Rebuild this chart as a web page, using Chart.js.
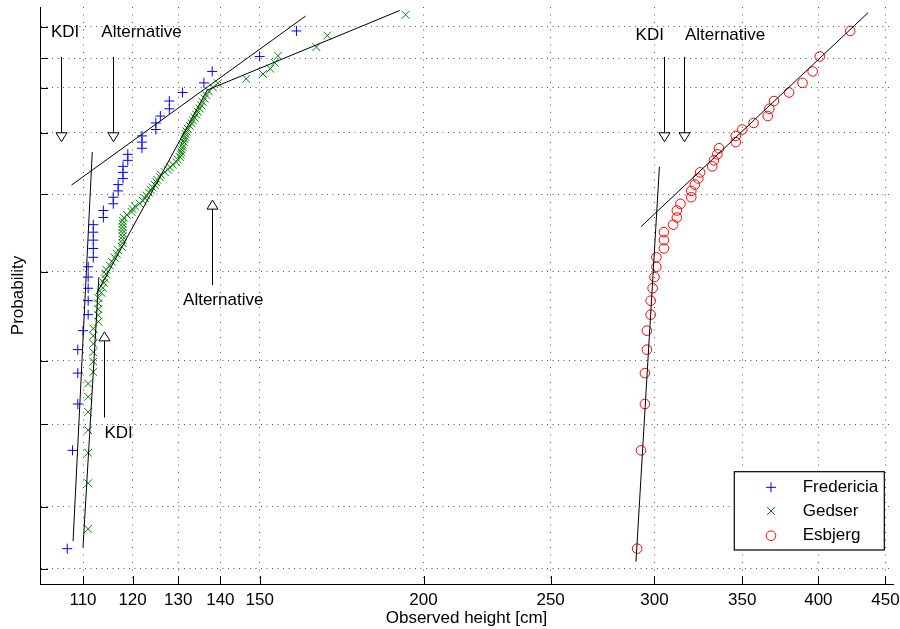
<!DOCTYPE html>
<html>
<head>
<meta charset="utf-8">
<script src="https://cdn.jsdelivr.net/npm/chart.js@4.4.1/dist/chart.umd.min.js"></script>
<style>
  html, body { margin: 0; padding: 0; background: #fff; }
</style>
</head>
<body>
<canvas id="myChart" width="900" height="629"></canvas>
<script>
// axis ticks
const xTicks = [110, 120, 130, 140, 150, 200, 250, 300, 350, 400, 450];
const probTicks = [0.01, 0.02, 0.05, 0.10, 0.25, 0.50, 0.75, 0.90, 0.96, 0.99];
const xLimits = [102, 456];
const probLimits = [0.0084, 0.9968];

// plotting positions (n = 40)
const prob40 = [0.0125, 0.0375, 0.0625, 0.0875, 0.1125, 0.1375, 0.1625, 0.1875, 0.2125, 0.2375,
  0.2625, 0.2875, 0.3125, 0.3375, 0.3625, 0.3875, 0.4125, 0.4375, 0.4625, 0.4875,
  0.5125, 0.5375, 0.5625, 0.5875, 0.6125, 0.6375, 0.6625, 0.6875, 0.7125, 0.7375,
  0.7625, 0.7875, 0.8125, 0.8375, 0.8625, 0.8875, 0.9125, 0.9375, 0.9625, 0.9875];

const fredHeight = [107, 108, 109, 109, 109, 110, 111, 111, 111, 111,
  111, 112, 112, 112, 112, 112, 114, 114, 116, 116,
  117, 117, 118, 118, 118, 119, 119, 122, 122, 122,
  125, 125, 126, 128, 128, 131, 136, 138, 150, 160];
const fredProb = prob40;

const esbHeight = [291, 293, 295, 295, 296, 296, 298, 298, 299, 300,
  301, 301, 305, 305, 305, 310, 312, 312, 314, 320,
  320, 322, 324, 325, 332, 333, 335, 336, 346, 346,
  350, 357, 366, 367, 370, 380, 389, 396, 401, 423];
const esbProb = prob40;

// Gedser (n = 96, lowest value falls below the axis)
const gedHeight = [111, 111, 111, 111, 111, 111, 111,
  112, 112, 112, 112, 112, 112,
  113, 113, 113, 113, 113, 113.6, 113.9, 114.1, 114.3, 114.5, 114.6,
  115.3, 115.7, 116.3, 116.7, 117.0, 117.7,
  117.9, 117.9, 117.9, 117.9, 117.9, 117.9, 117.9, 117.9,
  118.2, 118.8, 119.8, 120.0, 120.5, 121.5, 122.2, 122.6, 122.9, 123.5,
  123.9, 124.3, 124.8, 125.1, 125.3, 125.9, 126.1, 127.0, 127.7, 128.1,
  128.8, 129.6, 129.9, 130.4, 130.6, 130.7, 130.8, 131.0, 131.0, 131.3,
  131.5, 131.6, 131.7, 131.9, 132.2, 132.7, 133.1, 133.4, 133.8, 134.2,
  134.5, 135.0, 135.4, 135.7, 136.2, 136.6, 137.2, 138.2, 139.4,
  146.5, 150.9, 152.8, 154.0, 154.9, 165.7, 168.9, 193.8];
const gedProb = [0.0156, 0.0260, 0.0365, 0.0469, 0.0573, 0.0677, 0.0781,
  0.0885, 0.0990, 0.1094, 0.1198, 0.1302, 0.1406,
  0.1510, 0.1615, 0.1719, 0.1823, 0.1927, 0.2031, 0.2135, 0.2240, 0.2344, 0.2448, 0.2552,
  0.2656, 0.2760, 0.2865, 0.2969, 0.3073, 0.3177,
  0.3281, 0.3385, 0.3490, 0.3594, 0.3698, 0.3802, 0.3906, 0.4010,
  0.4115, 0.4219, 0.4323, 0.4427, 0.4531, 0.4635, 0.4740, 0.4844, 0.4948, 0.5052,
  0.5156, 0.5260, 0.5365, 0.5469, 0.5573, 0.5677, 0.5781, 0.5885, 0.5990, 0.6094,
  0.6198, 0.6302, 0.6406, 0.6510, 0.6615, 0.6719, 0.6823, 0.6927, 0.7031, 0.7135,
  0.7240, 0.7344, 0.7448, 0.7552, 0.7656, 0.7760, 0.7865, 0.7969, 0.8073, 0.8177,
  0.8281, 0.8385, 0.8490, 0.8594, 0.8698, 0.8802, 0.8906, 0.9010, 0.9115,
  0.9219, 0.9323, 0.9427, 0.9531, 0.9635, 0.9740, 0.9844, 0.9948];

// fitted lines [height, probability]
const fredKdiLine = [[108.1, 0.0136], [111.8, 0.672]];
const fredAltLine = [[107.8, 0.5356], [162.6, 0.9944]];
const gedKdiLine = [[110.0, 0.0127], [113.1, 0.2373]];
const gedAltLine = [[112.6, 0.2003], [136.8, 0.8942], [191.8, 0.9960]];
const esbKdiLine = [[290.4, 0.0108], [302.6, 0.6107]];
const esbAltLine = [[292.9, 0.3803], [436.4, 0.9954]];

// annotations
const arrows = [
  {h: 105.9, from: 0.962, to: 0.714},
  {h: 115.9, from: 0.962, to: 0.714},
  {h: 304.8, from: 0.962, to: 0.714},
  {h: 316.1, from: 0.962, to: 0.714},
  {h: 137.9, from: 0.2192, to: 0.4765},
  {h: 114.1, from: 0.0539, to: 0.1358}
];
const notes = [
  {text: 'KDI', h: 106.6, p: 0.9866},
  {text: 'Alternative', h: 121.9, p: 0.9866},
  {text: 'KDI', h: 297.5, p: 0.9848},
  {text: 'Alternative', h: 339.6, p: 0.9848},
  {text: 'Alternative', h: 140.7, p: 0.1885},
  {text: 'KDI', h: 117.1, p: 0.0452}
];

const wbl = p => Math.log(-Math.log(1 - p));
const toPoints = (hs, ps) => hs.map((h, i) => ({x: h, y: wbl(ps[i])}));
const linePoints = pts => pts.map(([h, p]) => ({x: h, y: wbl(p)}));

const FONT = "'Liberation Sans', Arial, Helvetica, sans-serif";
Chart.defaults.font.family = FONT;
Chart.defaults.font.size = 17;
Chart.defaults.color = '#000';

const fitLine = pts => ({
  type: 'line', data: linePoints(pts), borderColor: '#000', borderWidth: 1,
  pointRadius: 0, showLine: true, fill: false, tension: 0
});

const series = [
  {label: 'Fredericia', color: '#0000ff', style: 'cross', radius: 5},
  {label: 'Gedser', color: '#008000', style: 'crossRot', radius: 5.5},
  {label: 'Esbjerg', color: '#ff0000', style: 'circle', radius: 4.8}
];

const drawMarker = (ctx, s, x, y) => {
  ctx.strokeStyle = s.color;
  ctx.lineWidth = 1;
  ctx.beginPath();
  if (s.style === 'cross') {
    ctx.moveTo(x - s.radius, y); ctx.lineTo(x + s.radius, y);
    ctx.moveTo(x, y - s.radius); ctx.lineTo(x, y + s.radius);
  } else if (s.style === 'crossRot') {
    const d = s.radius * Math.SQRT1_2;
    ctx.moveTo(x - d, y - d); ctx.lineTo(x + d, y + d);
    ctx.moveTo(x - d, y + d); ctx.lineTo(x + d, y - d);
  } else {
    ctx.arc(x, y, s.radius, 0, Math.PI * 2);
  }
  ctx.stroke();
};

const extras = {
  id: 'extras',
  afterDraw(chart) {
    const {ctx, chartArea: a, scales: {x, y}} = chart;
    ctx.save();

    // inward tick marks
    ctx.strokeStyle = '#000';
    ctx.lineWidth = 1;
    ctx.beginPath();
    xTicks.forEach(v => {
      const px = Math.round(x.getPixelForValue(v)) + 0.5;
      ctx.moveTo(px, a.bottom); ctx.lineTo(px, a.bottom - 8);
    });
    probTicks.forEach(p => {
      const py = Math.round(y.getPixelForValue(wbl(p))) + 0.5;
      ctx.moveTo(a.left, py); ctx.lineTo(a.left + 8, py);
    });
    ctx.stroke();

    // arrows
    arrows.forEach(ar => {
      const px = Math.round(x.getPixelForValue(ar.h)) + 0.5;
      const y0 = y.getPixelForValue(wbl(ar.from));
      const y1 = y.getPixelForValue(wbl(ar.to));
      const dir = Math.sign(y1 - y0);
      const base = y1 - dir * 9;
      ctx.strokeStyle = '#000';
      ctx.beginPath();
      ctx.moveTo(px, y0); ctx.lineTo(px, base);
      ctx.stroke();
      ctx.beginPath();
      ctx.moveTo(px - 5.5, base); ctx.lineTo(px + 5.5, base); ctx.lineTo(px, y1); ctx.closePath();
      ctx.fillStyle = '#fff';
      ctx.fill();
      ctx.stroke();
    });

    // text notes
    ctx.fillStyle = '#000';
    ctx.font = '17px ' + FONT;
    ctx.textAlign = 'center';
    ctx.textBaseline = 'middle';
    notes.forEach(n => {
      ctx.fillText(n.text, x.getPixelForValue(n.h), y.getPixelForValue(wbl(n.p)));
    });

    // legend
    const lx = a.right - 158.7, ly = a.bottom - 112.3, lw = 150, lh = 78.3;
    ctx.fillStyle = '#fff';
    ctx.fillRect(lx, ly, lw, lh);
    ctx.strokeStyle = '#000';
    ctx.lineWidth = 1.2;
    ctx.strokeRect(lx, ly, lw, lh);
    const rows = [15.6, 39.3, 64];
    ctx.textAlign = 'left';
    series.forEach((s, i) => {
      drawMarker(ctx, s, lx + 36.7, ly + rows[i]);
      ctx.fillStyle = '#000';
      ctx.fillText(s.label, lx + 68.4, ly + rows[i]);
    });
    ctx.restore();
  }
};

new Chart(document.getElementById('myChart'), {
  type: 'scatter',
  data: {
    datasets: [
      fitLine(fredKdiLine), fitLine(fredAltLine),
      fitLine(gedKdiLine), fitLine(gedAltLine),
      fitLine(esbKdiLine), fitLine(esbAltLine),
      {label: 'Fredericia', data: toPoints(fredHeight, fredProb), pointStyle: 'cross', pointRadius: 5,
        borderColor: '#0000ff', backgroundColor: 'transparent', pointBorderWidth: 1, showLine: false},
      {label: 'Gedser', data: toPoints(gedHeight, gedProb), pointStyle: 'crossRot', pointRadius: 5.5,
        borderColor: '#008000', backgroundColor: 'transparent', pointBorderWidth: 1, showLine: false},
      {label: 'Esbjerg', data: toPoints(esbHeight, esbProb), pointStyle: 'circle', pointRadius: 4.8,
        borderColor: '#ff0000', backgroundColor: 'transparent', pointBorderWidth: 1, showLine: false}
    ]
  },
  options: {
    responsive: false,
    animation: false,
    events: [],
    layout: {padding: {left: 0, top: 7, right: 7, bottom: 0}},
    plugins: {legend: {display: false}, tooltip: {enabled: false}},
    scales: {
      x: {
        type: 'logarithmic',
        position: 'bottom',
        min: xLimits[0],
        max: xLimits[1],
        afterBuildTicks: s => { s.ticks = xTicks.map(v => ({value: v})); },
        afterFit: s => { s.height = 45; s.paddingLeft = 0; s.paddingRight = 0; },
        ticks: {callback: v => String(v), autoSkip: false, maxRotation: 0, padding: 6, color: '#000'},
        grid: {color: '#555', lineWidth: 1, drawTicks: false},
        border: {display: true, color: '#000', width: 1, dash: [1, 6.5]},
        title: {display: true, text: 'Observed height [cm]', color: '#000', padding: {top: 0, bottom: 0}}
      },
      y: {
        type: 'linear',
        position: 'left',
        min: wbl(probLimits[0]),
        max: wbl(probLimits[1]),
        afterBuildTicks: s => { s.ticks = probTicks.map(p => ({value: wbl(p)})); },
        afterFit: s => { s.width = 40; s.paddingTop = 0; s.paddingBottom = 0; },
        ticks: {display: false},
        grid: {color: '#555', lineWidth: 1, drawTicks: false},
        border: {display: true, color: '#000', width: 1, dash: [1, 4.5]},
        title: {display: true, text: 'Probability', color: '#000', padding: {top: 8, bottom: 0}}
      }
    }
  },
  plugins: [extras]
});
</script>
</body>
</html>
